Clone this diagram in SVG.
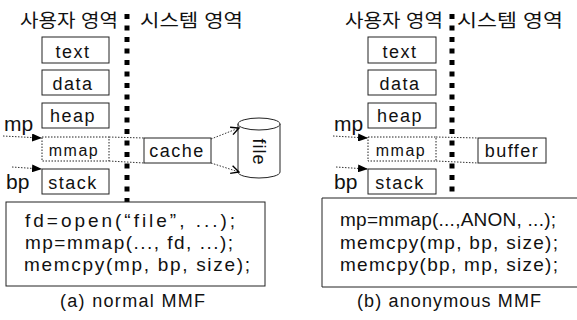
<svg xmlns="http://www.w3.org/2000/svg" width="577" height="320" viewBox="0 0 577 320">
  <style>
    text { font-family: "Liberation Sans", "Noto Sans CJK KR", sans-serif; fill: #111; }
    .title { font-size: 18px; }
    .lbl { font-size: 18px; letter-spacing: 1.5px; text-anchor: middle; }
    .ptr { font-size: 21px; }
    .code { font-size: 19px; }
    .cap { font-size: 18px; }
    .box { fill: #fff; stroke: #222; stroke-width: 1; }
    .dbox { fill: #fff; stroke: #222; stroke-width: 1; stroke-dasharray: 1.5 1.5; }
    .wall { stroke: #000; stroke-width: 5; stroke-dasharray: 5 6.5; }
    .dot { fill: none; stroke: #333; stroke-width: 1; stroke-dasharray: 1.5 1.5; }
  </style>
  <defs>
    <marker id="solidHead" viewBox="0 0 10 8" refX="9" refY="4" markerWidth="10" markerHeight="8" markerUnits="userSpaceOnUse" orient="auto">
      <path d="M0,0 L10,4 L0,8 Z" fill="#000"/>
    </marker>
    <marker id="openHead" viewBox="0 0 10 10" refX="9" refY="5" markerWidth="10" markerHeight="10" markerUnits="userSpaceOnUse" orient="auto">
      <path d="M1,1 L9,5 L1,9" fill="none" stroke="#000" stroke-width="1.4"/>
    </marker>
  </defs>

  <!-- (a) normal memory-mapped file -->
  <g id="panel-a">
    <text class="title" x="20" y="27" textLength="98" lengthAdjust="spacingAndGlyphs">사용자 영역</text>
    <text class="title" x="140" y="27" textLength="103" lengthAdjust="spacingAndGlyphs">시스템 영역</text>
    <line id="a-boundary" class="wall" x1="127" y1="14" x2="127" y2="203"/>

    <g id="a-text"><rect class="box" x="42" y="37" width="67" height="26"/><text class="lbl" x="73" y="58">text</text></g>
    <g id="a-data"><rect class="box" x="42" y="70" width="67" height="25"/><text class="lbl" x="73" y="90">data</text></g>
    <g id="a-heap"><rect class="box" x="42" y="103" width="67" height="25"/><text class="lbl" x="73" y="122">heap</text></g>
    <g id="a-mmap"><rect class="dbox" x="42" y="137" width="67" height="24"/><text class="lbl" x="74" y="156" style="font-size:16px">mmap</text></g>
    <g id="a-stack"><rect class="box" x="42" y="169" width="67" height="25"/><text class="lbl" x="73" y="189">stack</text></g>
    <g id="a-mp"><text class="ptr" x="4" y="131">mp</text></g>
    <g id="a-bp"><text class="ptr" x="6" y="189">bp</text></g>

    <g id="a-cache"><rect class="box" x="144" y="138" width="67" height="25"/><text class="lbl" x="177" y="157">cache</text></g>

    <g id="a-file">
      <path d="M238,124 L238,172 A21,6 0 0 0 280,172 L280,124" fill="#fff" stroke="#222" stroke-width="1"/>
      <ellipse cx="259" cy="124" rx="21" ry="6" fill="#fff" stroke="#222" stroke-width="1"/>
      <text class="lbl" transform="translate(253,152) rotate(90)" x="0" y="0" style="letter-spacing:1px">file</text>
    </g>

    <g id="a-code">
      <rect class="box" x="6" y="202" width="259" height="84"/>
      <text class="code" x="25" y="227" textLength="210" lengthAdjust="spacing">fd=open(“file”, ...);</text>
      <text class="code" x="25" y="249" textLength="208" lengthAdjust="spacing">mp=mmap(..., fd, ...);</text>
      <text class="code" x="24" y="271" textLength="226" lengthAdjust="spacing">memcpy(mp, bp, size);</text>
    </g>

    <text class="cap" x="60" y="307" textLength="145" lengthAdjust="spacing">(a) normal MMF</text>
  </g>

  <!-- (b) anonymous memory-mapped region -->
  <g id="panel-b">
    <text class="title" x="345" y="27" textLength="98" lengthAdjust="spacingAndGlyphs">사용자 영역</text>
    <text class="title" x="457" y="27" textLength="106" lengthAdjust="spacingAndGlyphs">시스템 영역</text>
    <line id="b-boundary" class="wall" x1="452" y1="14" x2="452" y2="200"/>

    <g id="b-text"><rect class="box" x="368" y="37" width="68" height="26"/><text class="lbl" x="400" y="58">text</text></g>
    <g id="b-data"><rect class="box" x="368" y="70" width="68" height="25"/><text class="lbl" x="400" y="90">data</text></g>
    <g id="b-heap"><rect class="box" x="368" y="103" width="68" height="25"/><text class="lbl" x="400" y="122">heap</text></g>
    <g id="b-mmap"><rect class="dbox" x="368" y="137" width="68" height="24"/><text class="lbl" x="401" y="156" style="font-size:16px">mmap</text></g>
    <g id="b-stack"><rect class="box" x="368" y="169" width="68" height="25"/><text class="lbl" x="400" y="189">stack</text></g>
    <g id="b-mp"><text class="ptr" x="334" y="131">mp</text></g>
    <g id="b-bp"><text class="ptr" x="334" y="189">bp</text></g>

    <g id="b-buffer"><rect class="box" x="478" y="138" width="68" height="25"/><text class="lbl" x="512" y="157">buffer</text></g>

    <g id="b-code">
      <path d="M577,198 L322,198 L322,287 L577,287" class="box" fill="#fff"/>
      <text class="code" x="340" y="226" textLength="216" lengthAdjust="spacing">mp=mmap(...,ANON, ...);</text>
      <text class="code" x="340" y="249" textLength="218" lengthAdjust="spacing">memcpy(mp, bp, size);</text>
      <text class="code" x="340" y="271" textLength="218" lengthAdjust="spacing">memcpy(bp, mp, size);</text>
    </g>

    <text class="cap" x="357" y="307" textLength="184" lengthAdjust="spacing">(b) anonymous MMF</text>
  </g>

  <!-- pointers and mappings -->
  <g id="connectors">
    <line class="dot" x1="3" y1="136" x2="41" y2="138" marker-end="url(#solidHead)"/>
    <line class="dot" x1="12" y1="167" x2="41" y2="169" marker-end="url(#solidHead)"/>
    <line class="dot" x1="109" y1="137" x2="144" y2="138"/>
    <line class="dot" x1="109" y1="161" x2="144" y2="163"/>
    <line class="dot" x1="211" y1="139" x2="239" y2="128" marker-end="url(#openHead)"/>
    <line class="dot" x1="211" y1="163" x2="239" y2="172" marker-end="url(#openHead)"/>

    <line class="dot" x1="333" y1="136" x2="367" y2="138" marker-end="url(#solidHead)"/>
    <line class="dot" x1="336" y1="167" x2="367" y2="169" marker-end="url(#solidHead)"/>
    <line class="dot" x1="436" y1="137" x2="478" y2="138"/>
    <line class="dot" x1="436" y1="161" x2="478" y2="163"/>
  </g>
</svg>
